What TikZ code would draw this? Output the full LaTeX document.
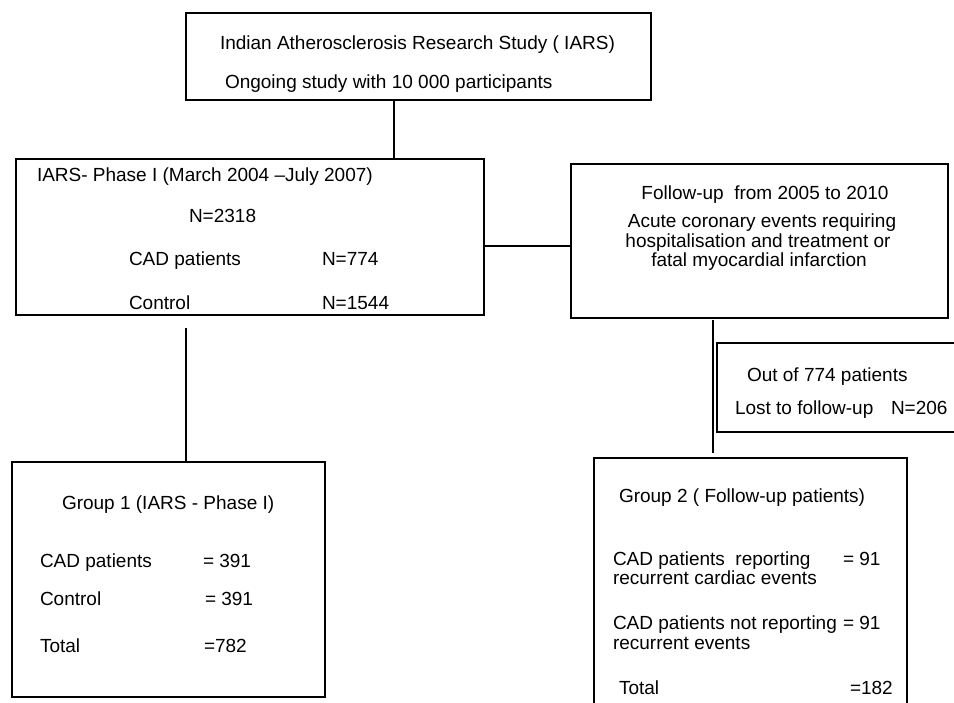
\documentclass[tikz,border=0pt]{standalone}
\usepackage{fontspec}
\setmainfont{Liberation Sans}
\begin{document}
\begin{tikzpicture}[x=1pt,y=-1pt,
  box/.style={draw=black,line width=1.3pt,inner sep=0pt,outer sep=0pt},
  txt/.style={anchor=base west,inner sep=0pt,outer sep=0pt,font=\fontsize{19}{22}\selectfont},
  ctxt/.style={anchor=base,inner sep=0pt,outer sep=0pt,font=\fontsize{19}{22}\selectfont},
  conn/.style={draw=black,line width=1.1pt}]
\useasboundingbox[fill=white] (0,0) rectangle (954,703);
% boxes
\node[box,minimum width=465pt,minimum height=87pt] (top) at (418.5,56.5) {};
\node[box,minimum width=468pt,minimum height=156pt] (ph) at (250,237) {};
\node[box,minimum width=377pt,minimum height=154pt] (fu) at (759.5,241) {};
\node[box,minimum width=258pt,minimum height=89pt] (lost) at (846,387.5) {};
\node[box,minimum width=313pt,minimum height=235pt] (g1) at (168.5,579.5) {};
\node[box,minimum width=313pt,minimum height=262pt] (g2) at (750.5,589) {};
% connector positions
\coordinate (c1) at (394,0);
\coordinate (c2) at (186,0);
\coordinate (c3) at (713,0);
\coordinate (c4) at (0,246);
\draw[conn] (top.south -| c1) -- (ph.north -| c1);
\draw[conn] ([yshift=-13pt]ph.south -| c2) -- (g1.north -| c2);
\draw[conn] (ph.east |- c4) -- (fu.west |- c4);
\draw[conn] ([yshift=-2pt]fu.south -| c3) -- ([yshift=5pt]g2.north -| c3);
% top texts
\node[txt] (t1) at (220,50) {Indian Atherosclerosis Research Study ( IARS)};
\node[txt] (t2) at (225,89) {Ongoing study with 10 000 participants};
% phase I texts
\node[txt] (p1) at (37,182) {IARS- Phase I (March 2004 –July 2007)};
\node[txt] (p2) at (189,223) {N=2318};
\node[txt] (p3) at (129,266) {CAD patients};
\node[txt] (p4) at (322,266) {N=774};
\node[txt] (p5) at (129,310) {Control};
\node[txt] (p6) at (322,310) {N=1544};
% follow-up texts
\node[ctxt] (f1) at (765,200) {Follow-up \ from 2005 to 2010};
\node[ctxt] (f2) at (762,228) {Acute coronary events requiring};
\node[ctxt] (f3) at (758,247.5) {hospitalisation and treatment or};
\node[ctxt] (f4) at (759,267) {fatal myocardial infarction};
% lost texts
\node[txt] (l1) at (747,382) {Out of 774 patients};
\node[txt] (l2) at (735,415) {Lost to follow-up};
\node[txt] (l3) at (891,415) {N=206};
% group 1 texts
\node[txt] (a1) at (62,509) {Group 1 (IARS - Phase I)};
\node[txt] (a2) at (40,567) {CAD patients};
\node[txt] (a3) at (203,567) {= 391};
\node[txt] (a4) at (40,605) {Control};
\node[txt] (a5) at (205,605) {= 391};
\node[txt] (a6) at (40,652) {Total};
\node[txt] (a7) at (204,652) {=782};
% group 2 texts
\node[txt] (b1) at (619,502) {Group 2 ( Follow-up patients)};
\node[txt] (b2) at (613,565) {CAD patients \ reporting};
\node[txt] (b3) at (843,565) {= 91};
\node[txt] (b4) at (613,584) {recurrent cardiac events};
\node[txt] (b5) at (613,629) {CAD patients not reporting};
\node[txt] (b6) at (843,629) {= 91};
\node[txt] (b7) at (613,649) {recurrent events};
\node[txt] (b8) at (619,694) {Total};
\node[txt] (b9) at (850,694) {=182};
\end{tikzpicture}
\end{document}
